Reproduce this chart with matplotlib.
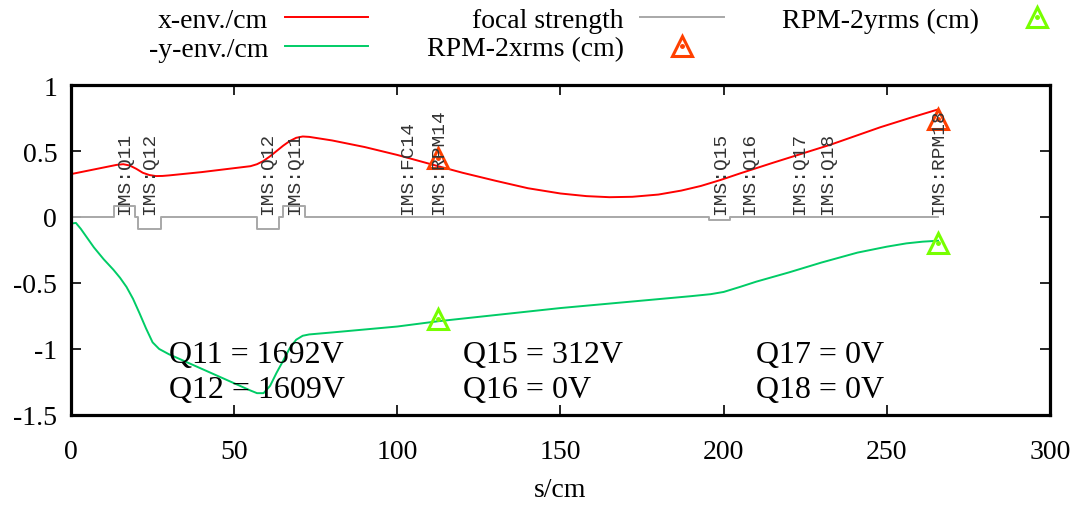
import matplotlib
matplotlib.use("Agg")
import matplotlib.pyplot as plt

# beam envelope along the line (s in cm)
xenv_s = [0, 5, 10, 14, 16, 18, 20, 22, 24, 26, 28, 30, 40, 50, 55, 57, 59, 61, 63, 65, 67, 69,
          71, 73, 80, 90, 100, 112.5, 120, 130, 140, 150, 158, 165, 172, 180, 187, 193, 199, 205,
          215, 224, 233, 248, 257, 265.7]
xenv = [0.325, 0.35, 0.375, 0.395, 0.40, 0.39, 0.365, 0.335, 0.318, 0.31, 0.311, 0.315, 0.34,
        0.37, 0.385, 0.40, 0.425, 0.46, 0.50, 0.54, 0.575, 0.60, 0.61, 0.607, 0.58, 0.53, 0.47,
        0.385, 0.335, 0.275, 0.218, 0.178, 0.158, 0.15, 0.153, 0.17, 0.20, 0.235, 0.28, 0.33,
        0.41, 0.48, 0.55, 0.68, 0.75, 0.815]

yenv_s = [0, 1.5, 3, 5, 7, 10, 13, 15, 17, 19, 21, 23, 25, 27, 30, 40, 50, 55, 57, 59, 61, 63,
          65, 67, 69, 71, 73, 80, 100, 112.5, 150, 190, 196, 200, 205, 210, 220, 230, 241, 250,
          256, 261, 265.7]
yenv = [-0.05, -0.045, -0.09, -0.16, -0.23, -0.32, -0.40, -0.46, -0.53, -0.62, -0.73, -0.845,
        -0.95, -1.0, -1.04, -1.15, -1.26, -1.315, -1.335, -1.335, -1.28, -1.18, -1.09, -0.995,
        -0.93, -0.90, -0.89, -0.875, -0.83, -0.79, -0.69, -0.60, -0.585, -0.568, -0.53, -0.49,
        -0.42, -0.345, -0.27, -0.225, -0.20, -0.187, -0.18]

# focal strength, piecewise constant (steps-post)
focal_s = [0, 13.2, 19.6, 20.5, 27.6, 57.0, 63.7, 65.0, 71.7, 195.5, 202.0, 265.7]
focal_k = [0, 0.085, 0, -0.09, 0, -0.09, 0, 0.085, 0, -0.02, 0, 0]

# RPM measurements
rpm_s = [112.5, 265.7]
rpm_x = [0.447, 0.74]
rpm_y = [-0.773, -0.197]

# element labels
elem_names = ["IMS:Q11", "IMS:Q12", "IMS:Q12", "IMS:Q11", "IMS:FC14", "IMS:RPM14",
              "IMS:Q15", "IMS:Q16", "IMS:Q17", "IMS:Q18", "IMS:RPM18"]
elem_s = [16.5, 24.2, 60.4, 68.6, 103, 112.8, 199, 208, 223.4, 232, 266]

# quad voltages
volt_text = ["Q11 = 1692V", "Q12 = 1609V", "Q15 = 312V", "Q16 = 0V", "Q17 = 0V", "Q18 = 0V"]
volt_s = [30, 30, 120, 120, 210, 210]
volt_y = [-1.10, -1.365, -1.10, -1.365, -1.10, -1.365]

yticks = [-1.5, -1, -0.5, 0, 0.5, 1]
ytick_labels = ["-1.5", "-1", "-0.5", "0", "0.5", "1"]
xticks = [0, 50, 100, 150, 200, 250, 300]
xtick_labels = ["0", "50", "100", "150", "200", "250", "300"]

plt.rcParams["font.family"] = ["Liberation Serif", "DejaVu Serif"]
plt.rcParams["font.size"] = 20

fig = plt.figure(figsize=(10.81, 5.06), dpi=100)
ax = fig.add_axes([0.0657, 0.178, 0.9056, 0.652])

lx, = ax.plot(xenv_s, xenv, color="#ff0000", lw=1.4, label="x-env./cm")
ly, = ax.plot(yenv_s, yenv, color="#00cc66", lw=1.4, label="-y-env./cm")
lf, = ax.plot(focal_s, focal_k, color="#a8a8a8", lw=1.4, drawstyle="steps-post",
              label="focal strength")

tx, = ax.plot(rpm_s, rpm_x, ls="none", marker="^", ms=15, mfc="none", mec="#ff4000", mew=2.2)
dx, = ax.plot(rpm_s, rpm_x, ls="none", marker="o", ms=2.5, color="#ff4000")
ty, = ax.plot(rpm_s, rpm_y, ls="none", marker="^", ms=15, mfc="none", mec="#77ff00", mew=2.2)
dy, = ax.plot(rpm_s, rpm_y, ls="none", marker="o", ms=2.5, color="#77ff00")

for name, s in zip(elem_names, elem_s):
    ax.text(s, 0.02, name, rotation=90, ha="center", va="bottom",
            family="Liberation Mono", fontsize=14, color="#333333")

for t, s, y in zip(volt_text, volt_s, volt_y):
    ax.text(s, y, t, ha="left", va="baseline", fontsize=23)

ax.set_xlim(0, 300)
ax.set_ylim(-1.5, 1)
ax.set_xticks(xticks)
ax.set_xticklabels(xtick_labels)
ax.set_yticks(yticks)
ax.set_yticklabels(ytick_labels)
ax.tick_params(direction="in", top=True, right=True, length=7, width=1.2)
ax.tick_params(axis="x", pad=17)
ax.tick_params(axis="y", pad=10)
for sp in ax.spines.values():
    sp.set_linewidth(2.3)
ax.set_xlabel("s/cm", labelpad=10)

handles = [lx, ly, lf, (tx, dx), (ty, dy)]
labels = ["x-env./cm", "-y-env./cm", "focal strength", "RPM-2xrms (cm)", "RPM-2yrms (cm)"]
fig.legend(handles, labels, ncol=3, markerfirst=False, frameon=False,
           loc="upper center", bbox_to_anchor=(0.568, 1.022),
           handlelength=3.0, handletextpad=0.6, columnspacing=2.1,
           labelspacing=0.12, borderpad=0.2)

fig.savefig("out.png", dpi=100)
